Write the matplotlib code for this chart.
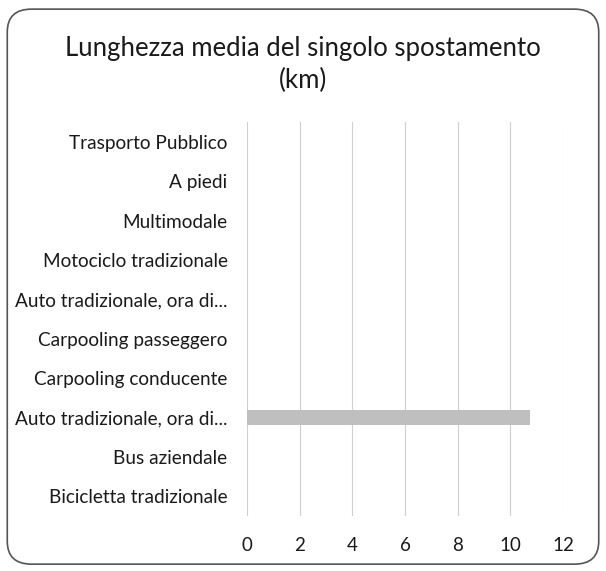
import matplotlib
matplotlib.use("Agg")
import matplotlib.pyplot as plt
from matplotlib.patches import FancyBboxPatch

categories = [
    "Trasporto Pubblico",
    "A piedi",
    "Multimodale",
    "Motociclo tradizionale",
    "Auto tradizionale, ora di...",
    "Carpooling passeggero",
    "Carpooling conducente",
    "Auto tradizionale, ora di...",
    "Bus aziendale",
    "Bicicletta tradizionale",
]
values = [0, 0, 0, 0, 0, 0, 0, 10.75, 0, 0]
xticks = [0, 2, 4, 6, 8, 10, 12]
title = "Lunghezza media del singolo spostamento\n(km)"

plt.rcParams['font.family'] = ['Lato', 'DejaVu Sans']

fig = plt.figure(figsize=(6.06, 5.71), dpi=100)
fig.patch.set_facecolor("white")

frame = FancyBboxPatch((0.012, 0.012), 0.976, 0.972,
                       boxstyle="round,pad=0,rounding_size=0.04",
                       transform=fig.transFigure, facecolor="white",
                       edgecolor="#555555", linewidth=1.2, zorder=-5)
fig.patches.append(frame)

ax = fig.add_axes([0.4076, 0.0963, 0.5215, 0.690])
ax.set_zorder(2)
ax.set_facecolor("none")
pos = list(range(len(categories)))
ax.barh(pos, values, height=0.36, color="#bfbfbf", zorder=3)
ax.set_yticks(pos)
ax.set_yticklabels(categories, fontsize=13.7, color="#1a1a1a")
ax.set_ylim(len(categories) - 0.5, -0.5)
ax.set_xlim(0, 12)
ax.set_xticks(xticks)
ax.set_xticklabels([str(t) for t in xticks], fontsize=13.5, color="#1a1a1a")
ax.grid(axis="x", color="#cfcfcf", linewidth=0.8, zorder=0)
for s in ax.spines.values():
    s.set_visible(False)
ax.tick_params(axis="y", length=0, pad=14)
ax.tick_params(axis="x", length=0, pad=15)

fig.text(0.5, 0.887, title, ha="center", va="center", fontsize=18.5,
         color="#1a1a1a", linespacing=1.3, zorder=5)

fig.savefig("out.png", dpi=100)
